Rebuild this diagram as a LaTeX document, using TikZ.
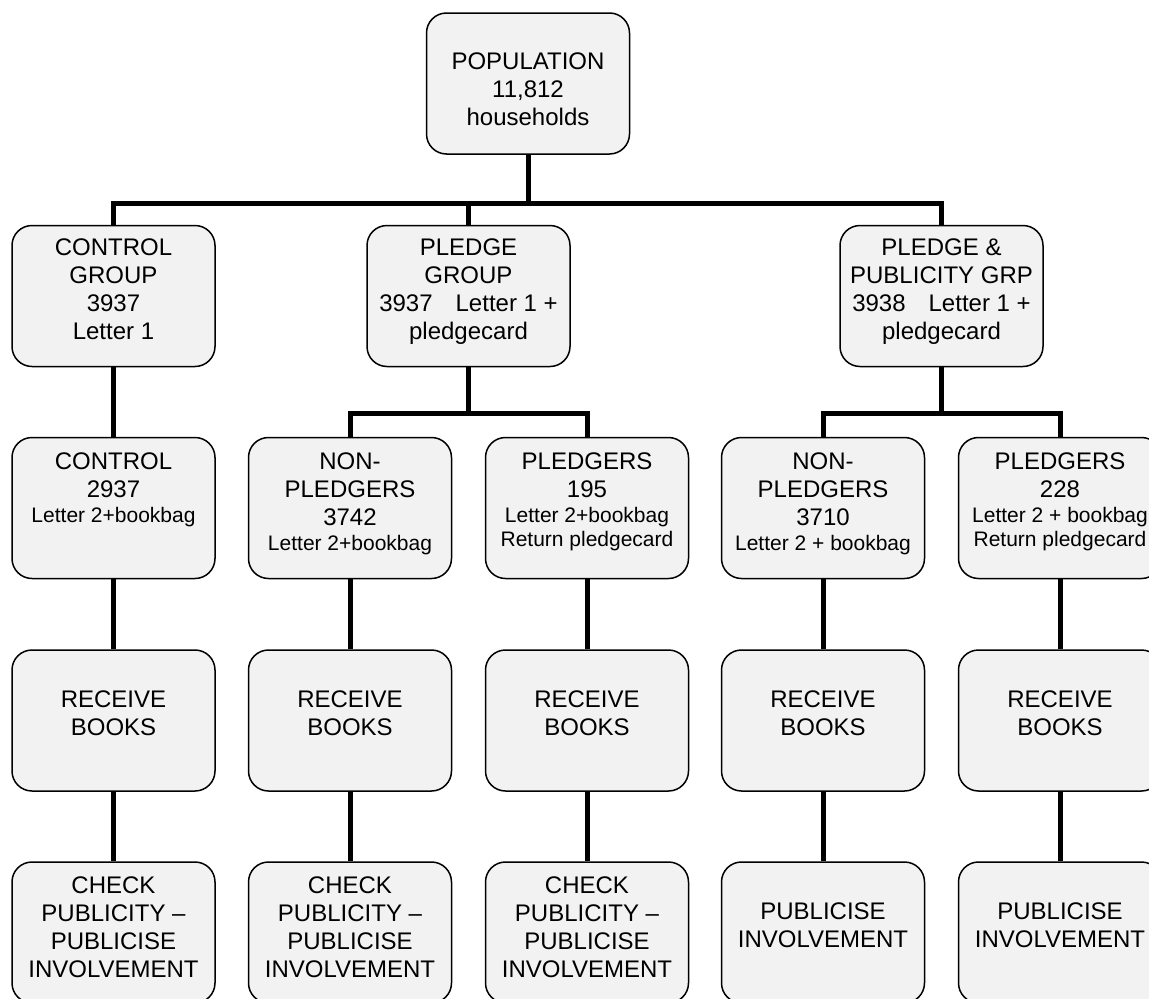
\documentclass[tikz,border=0pt]{standalone}
\usepackage{fontspec}
\setmainfont{Liberation Sans}
\definecolor{boxgray}{HTML}{F2F2F2}
\newcommand\bigf{\fontsize{24}{28}\selectfont}
\newcommand\smf{\fontsize{21}{24}\selectfont}
\newcommand\bx[5]{%
  \node[boxs] (#1) at (#2,#3) {};
  \node[txt] (#1t) at ([yshift=-#4pt]#1.north) {#5};}
\tikzset{
  boxs/.style={draw, line width=1.5pt, fill=boxgray, rounded corners=20pt,
    minimum width=203pt, minimum height=141pt, inner sep=0pt},
  txt/.style={align=center, font=\bigf, inner sep=0pt, anchor=north},
  conn/.style={line width=5pt}
}
\begin{document}
\begin{tikzpicture}[x=1pt,y=-1pt]
\useasboundingbox (0,0) rectangle (1149,999);
\clip (0,0) rectangle (1149,999);
\bx{pop}{528}{83.5}{40}{POPULATION\\11,812\\households}
\bx{c1}{113.5}{296}{14}{CONTROL\\GROUP\\3937\\Letter 1}
\bx{c2}{468.5}{296}{14}{PLEDGE\\GROUP\\3937\hspace{23pt}Letter 1 +\\pledgecard}
\bx{c3}{941.5}{296}{14}{PLEDGE \&\\PUBLICITY GRP\\3938\hspace{23pt}Letter 1 +\\pledgecard}
\bx{d1}{113.5}{508}{16}{CONTROL\\2937\\[-3.5pt]{\smf Letter 2+bookbag}}
\bx{d2}{350}{508}{16}{NON-\\PLEDGERS\\3742\\[-3.5pt]{\smf Letter 2+bookbag}}
\bx{d3}{587}{508}{16}{PLEDGERS\\195\\[-3.5pt]{\smf Letter 2+bookbag}\\[-4pt]{\smf Return pledgecard}}
\bx{d4}{823}{508}{16}{NON-\\PLEDGERS\\3710\\[-3.5pt]{\smf Letter 2 + bookbag}}
\bx{d5}{1060}{508}{16}{PLEDGERS\\228\\[-3.5pt]{\smf Letter 2 + bookbag}\\[-4pt]{\smf Return pledgecard}}
\bx{e1}{113.5}{720.5}{41}{RECEIVE\\BOOKS}
\bx{e2}{350}{720.5}{41}{RECEIVE\\BOOKS}
\bx{e3}{587}{720.5}{41}{RECEIVE\\BOOKS}
\bx{e4}{823}{720.5}{41}{RECEIVE\\BOOKS}
\bx{e5}{1060}{720.5}{41}{RECEIVE\\BOOKS}
\bx{f1}{113.5}{932.5}{15}{CHECK\\PUBLICITY --\\PUBLICISE\\INVOLVEMENT}
\bx{f2}{350}{932.5}{15}{CHECK\\PUBLICITY --\\PUBLICISE\\INVOLVEMENT}
\bx{f3}{587}{932.5}{15}{CHECK\\PUBLICITY --\\PUBLICISE\\INVOLVEMENT}
\bx{f4}{823}{932.5}{41}{PUBLICISE\\INVOLVEMENT}
\bx{f5}{1060}{932.5}{41}{PUBLICISE\\INVOLVEMENT}
\coordinate (j0) at (528,203);
\coordinate (j2) at (468.5,413);
\coordinate (j3) at (941.5,413);
\draw[conn] (pop.south) -- (j0);
\draw[conn] (c1.north) |- (j0) -| (c3.north);
\draw[conn] (c2.north) -- (c2.north |- j0);
\draw[conn] (c1.south) -- (d1.north);
\draw[conn] (c2.south) -- (j2);
\draw[conn] (d2.north) |- (j2) -| (d3.north);
\draw[conn] (c3.south) -- (j3);
\draw[conn] (d4.north) |- (j3) -| (d5.north);
\foreach \a/\b in {d1/e1,d2/e2,d3/e3,d4/e4,d5/e5,e1/f1,e2/f2,e3/f3,e4/f4,e5/f5}
  \draw[conn] (\a.south) -- (\b.north);
\end{tikzpicture}
\end{document}
